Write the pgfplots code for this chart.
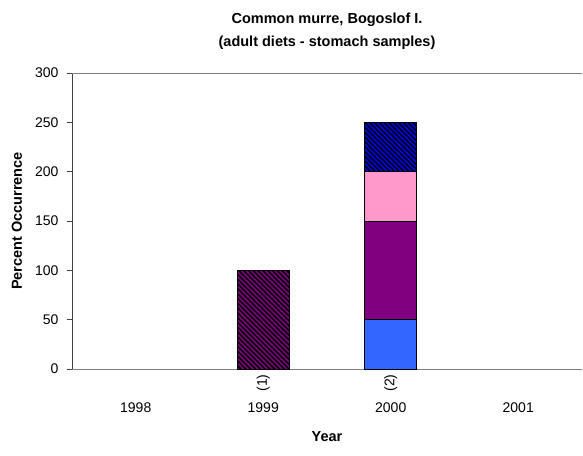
\documentclass[border=0pt]{standalone}
\usepackage{fontspec}
\setmainfont{Liberation Sans}
\usepackage{pgfplots}
\pgfplotsset{compat=1.18}
\usetikzlibrary{patterns.meta}
\definecolor{murreBlue}{HTML}{3366FF}
\definecolor{murrePurple}{HTML}{800080}
\definecolor{murrePink}{HTML}{FF99CC}
\definecolor{murreDeep}{HTML}{0000EE}

\begin{document}
\begin{tikzpicture}
\useasboundingbox (-72pt,-86pt) rectangle (511pt,369pt);
\begin{axis}[
    at={(0pt,0pt)}, anchor=south west,
    scale only axis,
    width=510pt, height=296pt,
    clip=false,
    ybar stacked,
    bar width=52pt,
    xmin=-0.5, xmax=3.5,
    ymin=0, ymax=300,
    xtick={0,1,2,3},
    xticklabels={1998,1999,2000,2001},
    xtick style={draw=none},
    xticklabel style={anchor=center, yshift=-34pt, font=\fontsize{14}{16}\selectfont},
    ytick={0,50,...,250},
    extra y ticks={300},
    extra y tick style={grid=major, major grid style={gray, line width=0.8pt}},
    yticklabel style={font=\fontsize{14}{16}\selectfont, xshift=-5pt},
    ytick style={black!75, line width=0.8pt},
    tick align=outside,
    major tick length=5pt,
    axis x line*=bottom,
    axis y line*=left,
    x axis line style={gray, line width=0.8pt},
    y axis line style={black!75, line width=0.8pt},
    /pgf/number format/assume math mode=true,
    title={Common murre, Bogoslof I.\\(adult diets - stomach samples)},
    title style={font=\bfseries\fontsize{14.5}{23}\selectfont, align=center,
        at={(axis description cs:0.5,1)}, anchor=south, yshift=14pt},
    ylabel={Percent Occurrence},
    ylabel style={font=\bfseries\fontsize{14.5}{16}\selectfont,
        at={(axis description cs:-0.108,0.5)}, anchor=center},
    xlabel={Year},
    xlabel style={font=\bfseries\fontsize{14.5}{16}\selectfont,
        at={(axis description cs:0.5,-0.23)}, anchor=center},
]
\addplot[fill=murrePurple, draw=black, line width=0.6pt,
    postaction={pattern={Lines[angle=-45,distance=3.4pt,line width=1.6pt]}, pattern color=black}]
    coordinates {(0,0) (1,100) (2,0) (3,0)};
\addplot[fill=murreBlue, draw=black, line width=0.6pt]
    coordinates {(0,0) (1,0) (2,50) (3,0)};
\addplot[fill=murrePurple, draw=black, line width=0.6pt]
    coordinates {(0,0) (1,0) (2,100) (3,0)};
\addplot[fill=murrePink, draw=black, line width=0.6pt]
    coordinates {(0,0) (1,0) (2,50) (3,0)};
\addplot[fill=murreDeep, draw=black, line width=0.6pt,
    postaction={pattern={Lines[angle=-45,distance=3.4pt,line width=1.6pt]}, pattern color=black}]
    coordinates {(0,0) (1,0) (2,50) (3,0)};
\node[rotate=90, font=\fontsize{14}{16}\selectfont] at ([yshift=-14pt]axis cs:1,0) {(1)};
\node[rotate=90, font=\fontsize{14}{16}\selectfont] at ([yshift=-14pt]axis cs:2,0) {(2)};
\end{axis}
\end{tikzpicture}
\end{document}
